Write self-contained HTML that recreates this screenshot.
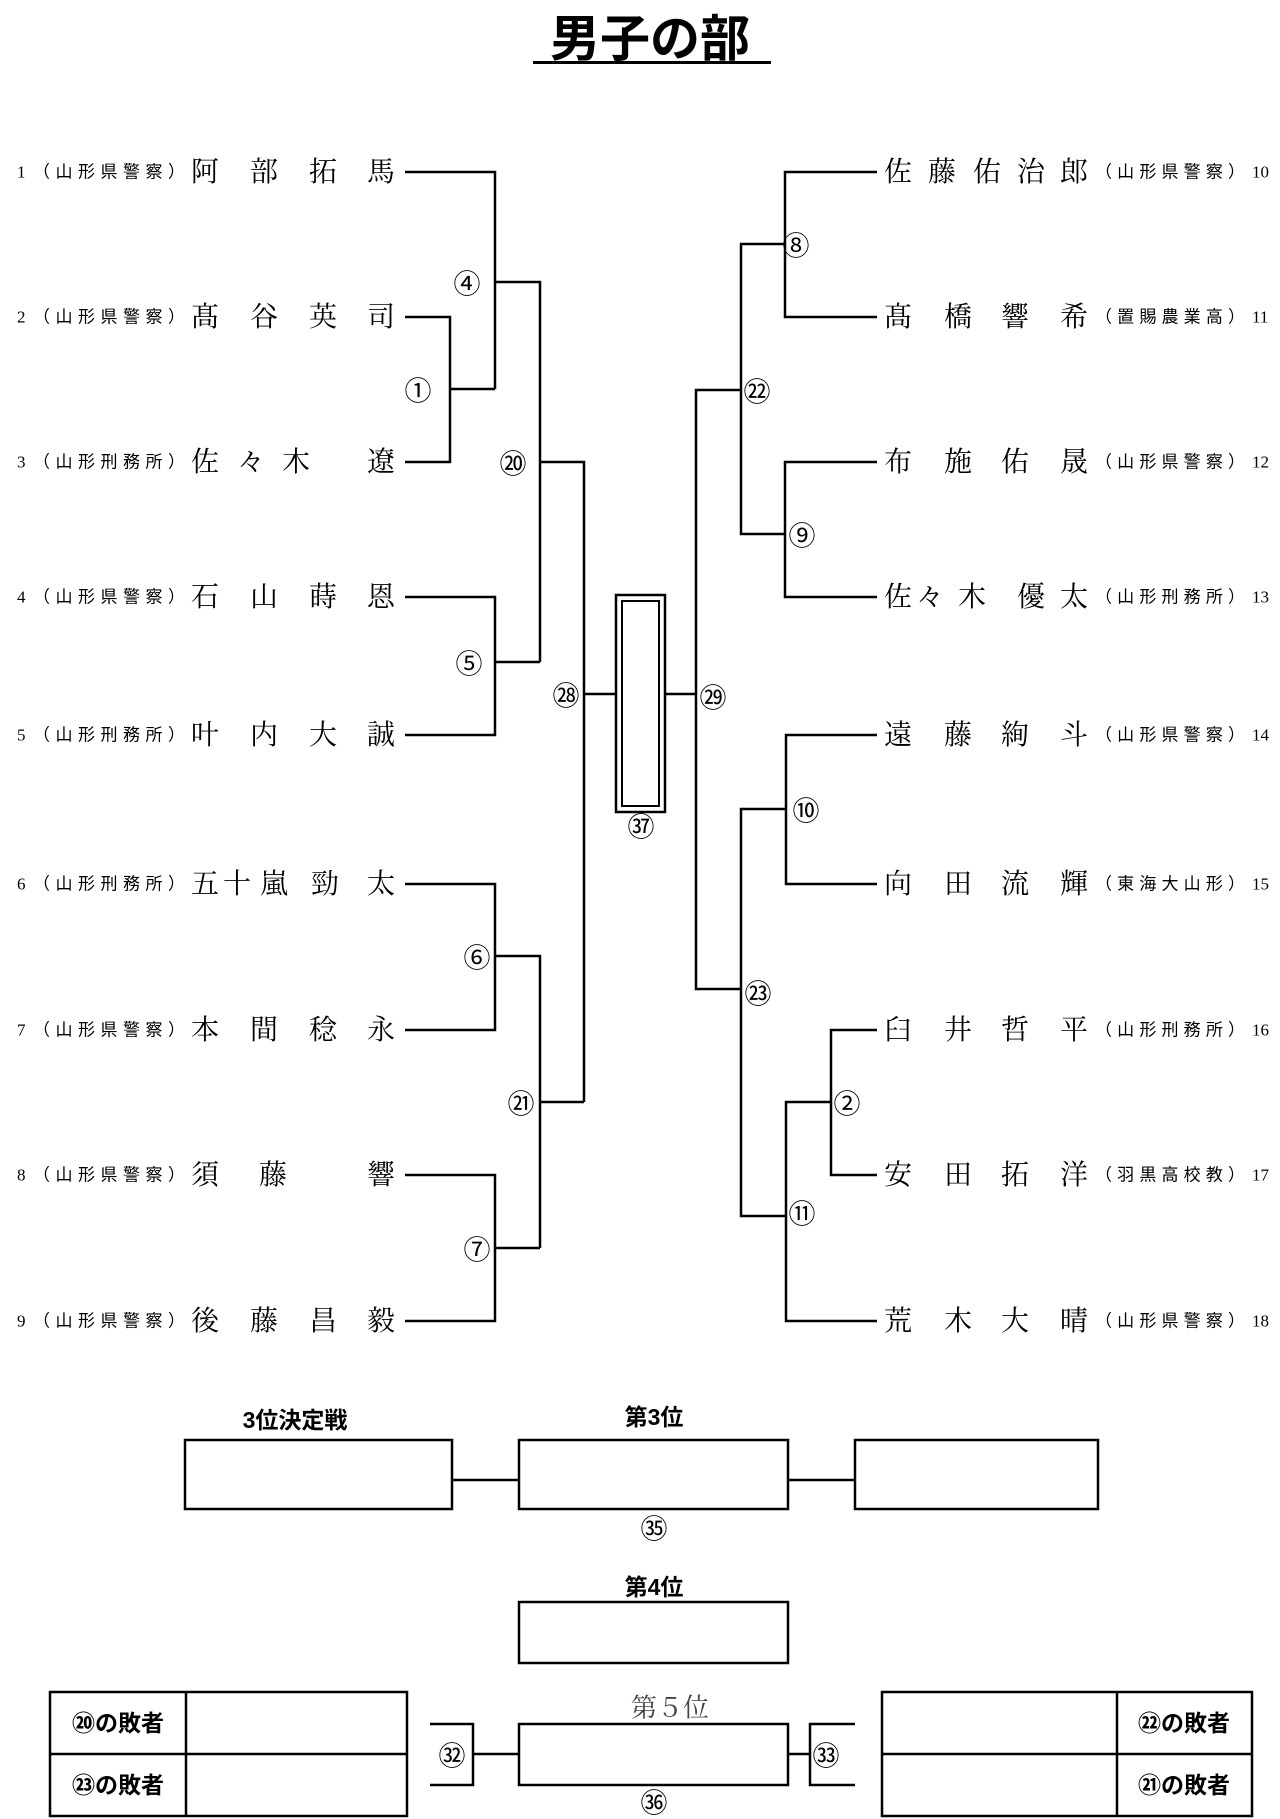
<!DOCTYPE html>
<html><head><meta charset="utf-8"><style>
html,body{margin:0;padding:0;background:#fff;}
svg{display:block;}
.nm{font-family:"Liberation Serif","Noto Serif CJK JP",serif;font-size:28px;}
.pf{font-family:"Liberation Sans","Noto Sans CJK JP",sans-serif;font-size:17px;}
.no{font-family:"Liberation Serif","Noto Serif CJK JP",serif;font-size:17px;}
.c{font-family:"Noto Sans CJK JP",sans-serif;font-size:27px;}
.b{font-family:"Liberation Sans","Noto Sans CJK JP",sans-serif;font-size:23px;font-weight:bold;}
</style></head><body>
<svg width="1280" height="1819" viewBox="0 0 1280 1819" xmlns="http://www.w3.org/2000/svg">
<g fill="none" stroke="#000" stroke-width="2.5">
<path d="M405 172H495V389"/>
<path d="M405 317H450V462H405"/>
<path d="M450 389H495"/>
<path d="M495 282H540V662"/>
<path d="M405 597H495V735H405"/>
<path d="M495 662H540"/>
<path d="M540 462H584V1102"/>
<path d="M405 884H495V1030H405"/>
<path d="M495 956H540V1248"/>
<path d="M405 1175H495V1321H405"/>
<path d="M495 1248H540"/>
<path d="M540 1102H584"/>
<path d="M584 694H616"/>
<path d="M877 172H785V317H877"/>
<path d="M785 244H741V534H785"/>
<path d="M877 462H785V597H877"/>
<path d="M741 390H696V989H741"/>
<path d="M877 735H786V884H877"/>
<path d="M786 809H741V1216H786"/>
<path d="M877 1030H831V1175H877"/>
<path d="M831 1102H786V1321H877"/>
<path d="M665 694H696"/>
<rect x="616" y="595" width="49" height="217"/>
<rect x="622" y="601" width="37" height="205" stroke-width="2"/>
<rect x="185" y="1440" width="267" height="69"/>
<rect x="519" y="1440" width="269" height="69"/>
<rect x="855" y="1440" width="243" height="69"/>
<path d="M452 1480H519M788 1480H855"/>
<rect x="519" y="1602" width="269" height="61"/>
<rect x="519" y="1724" width="269" height="61"/>
<path d="M430 1724H473V1785H430M473 1754H519"/>
<path d="M855 1724H810V1785H855M810 1754H788"/>
<rect x="50" y="1692" width="357" height="124"/>
<path d="M186 1692V1816M50 1754H407"/>
<rect x="882" y="1692" width="370" height="124"/>
<path d="M1117 1692V1816M882 1754H1252"/>
</g>

<text x="650" y="56" text-anchor="middle" font-family="Liberation Sans,Noto Sans CJK JP,sans-serif" font-size="50" font-weight="bold">男子の部</text>
<rect x="533" y="61" width="238" height="3" fill="#000"/>

<g dominant-baseline="central">
<g class="no"><text x="17" y="172">1</text><text x="17" y="317">2</text><text x="17" y="462">3</text><text x="17" y="597">4</text><text x="17" y="735">5</text><text x="17" y="884">6</text><text x="17" y="1030">7</text><text x="17" y="1175">8</text><text x="17" y="1321">9</text></g>
<g class="pf">
<text x="33" y="172" textLength="152" lengthAdjust="spacing">（山形県警察）</text>
<text x="33" y="317" textLength="152" lengthAdjust="spacing">（山形県警察）</text>
<text x="33" y="462" textLength="152" lengthAdjust="spacing">（山形刑務所）</text>
<text x="33" y="597" textLength="152" lengthAdjust="spacing">（山形県警察）</text>
<text x="33" y="735" textLength="152" lengthAdjust="spacing">（山形刑務所）</text>
<text x="33" y="884" textLength="152" lengthAdjust="spacing">（山形刑務所）</text>
<text x="33" y="1030" textLength="152" lengthAdjust="spacing">（山形県警察）</text>
<text x="33" y="1175" textLength="152" lengthAdjust="spacing">（山形県警察）</text>
<text x="33" y="1321" textLength="152" lengthAdjust="spacing">（山形県警察）</text>
</g>
<g class="nm" text-anchor="middle">
<text y="172"><tspan x="205">阿</tspan><tspan x="264">部</tspan><tspan x="323">拓</tspan><tspan x="381">馬</tspan></text>
<text y="317"><tspan x="205">髙</tspan><tspan x="264">谷</tspan><tspan x="323">英</tspan><tspan x="381">司</tspan></text>
<text y="462"><tspan x="205">佐</tspan><tspan x="251">々</tspan><tspan x="296">木</tspan><tspan x="381">遼</tspan></text>
<text y="597"><tspan x="205">石</tspan><tspan x="264">山</tspan><tspan x="323">蒔</tspan><tspan x="381">恩</tspan></text>
<text y="735"><tspan x="205">叶</tspan><tspan x="264">内</tspan><tspan x="323">大</tspan><tspan x="381">誠</tspan></text>
<text y="884"><tspan x="205">五</tspan><tspan x="237">十</tspan><tspan x="274">嵐</tspan><tspan x="325">勁</tspan><tspan x="381">太</tspan></text>
<text y="1030"><tspan x="205">本</tspan><tspan x="264">間</tspan><tspan x="323">稔</tspan><tspan x="381">永</tspan></text>
<text y="1175"><tspan x="205">須</tspan><tspan x="273">藤</tspan><tspan x="381">響</tspan></text>
<text y="1321"><tspan x="205">後</tspan><tspan x="264">藤</tspan><tspan x="323">昌</tspan><tspan x="381">毅</tspan></text>
</g>
<g class="nm" text-anchor="middle">
<text y="172"><tspan x="898">佐</tspan><tspan x="942">藤</tspan><tspan x="987">佑</tspan><tspan x="1031">治</tspan><tspan x="1074">郎</tspan></text>
<text y="317"><tspan x="898">髙</tspan><tspan x="958">橋</tspan><tspan x="1015">響</tspan><tspan x="1074">希</tspan></text>
<text y="462"><tspan x="898">布</tspan><tspan x="958">施</tspan><tspan x="1015">佑</tspan><tspan x="1074">晟</tspan></text>
<text y="597"><tspan x="898">佐</tspan><tspan x="930">々</tspan><tspan x="972">木</tspan><tspan x="1031">優</tspan><tspan x="1074">太</tspan></text>
<text y="735"><tspan x="898">遠</tspan><tspan x="958">藤</tspan><tspan x="1015">絢</tspan><tspan x="1074">斗</tspan></text>
<text y="884"><tspan x="898">向</tspan><tspan x="958">田</tspan><tspan x="1015">流</tspan><tspan x="1074">輝</tspan></text>
<text y="1030"><tspan x="898">臼</tspan><tspan x="958">井</tspan><tspan x="1015">哲</tspan><tspan x="1074">平</tspan></text>
<text y="1175"><tspan x="898">安</tspan><tspan x="958">田</tspan><tspan x="1015">拓</tspan><tspan x="1074">洋</tspan></text>
<text y="1321"><tspan x="898">荒</tspan><tspan x="958">木</tspan><tspan x="1015">大</tspan><tspan x="1074">晴</tspan></text>
</g>
<g class="pf">
<text x="1095" y="172" textLength="150" lengthAdjust="spacing">（山形県警察）</text>
<text x="1095" y="317" textLength="150" lengthAdjust="spacing">（置賜農業高）</text>
<text x="1095" y="462" textLength="150" lengthAdjust="spacing">（山形県警察）</text>
<text x="1095" y="597" textLength="150" lengthAdjust="spacing">（山形刑務所）</text>
<text x="1095" y="735" textLength="150" lengthAdjust="spacing">（山形県警察）</text>
<text x="1095" y="884" textLength="150" lengthAdjust="spacing">（東海大山形）</text>
<text x="1095" y="1030" textLength="150" lengthAdjust="spacing">（山形刑務所）</text>
<text x="1095" y="1175" textLength="150" lengthAdjust="spacing">（羽黒高校教）</text>
<text x="1095" y="1321" textLength="150" lengthAdjust="spacing">（山形県警察）</text>
</g>
<g class="no"><text x="1252" y="172">10</text><text x="1252" y="317">11</text><text x="1252" y="462">12</text><text x="1252" y="597">13</text><text x="1252" y="735">14</text><text x="1252" y="884">15</text><text x="1252" y="1030">16</text><text x="1252" y="1175">17</text><text x="1252" y="1321">18</text></g>

<g class="c" text-anchor="middle">
<text x="418" y="389">①</text>
<text x="467" y="282">④</text>
<text x="513" y="462">⑳</text>
<text x="469" y="662">⑤</text>
<text x="566" y="694">㉘</text>
<text x="477" y="956">⑥</text>
<text x="521" y="1102">㉑</text>
<text x="477" y="1248">⑦</text>
<text x="796" y="244">⑧</text>
<text x="757" y="390">㉒</text>
<text x="802" y="534">⑨</text>
<text x="713" y="696">㉙</text>
<text x="641" y="825">㊲</text>
<text x="806" y="809">⑩</text>
<text x="758" y="992">㉓</text>
<text x="847" y="1102">②</text>
<text x="802" y="1212">⑪</text>
<text x="654" y="1527">㉟</text>
<text x="452" y="1754">㉜</text>
<text x="826" y="1754">㉝</text>
<text x="654" y="1801">㊱</text>
</g>

<g class="b" text-anchor="middle">
<text x="295" y="1420">3位決定戦</text>
<text x="654" y="1417">第3位</text>
<text x="654" y="1587">第4位</text>
<text x="118" y="1723">⑳の敗者</text>
<text x="118" y="1785">㉓の敗者</text>
<text x="1184" y="1723">㉒の敗者</text>
<text x="1184" y="1785">㉑の敗者</text>
</g>
<text x="670" y="1708" text-anchor="middle" font-family="Liberation Serif,Noto Serif CJK JP,serif" font-size="26" fill="#444">第５位</text>
</g>
</svg>
</body></html>
